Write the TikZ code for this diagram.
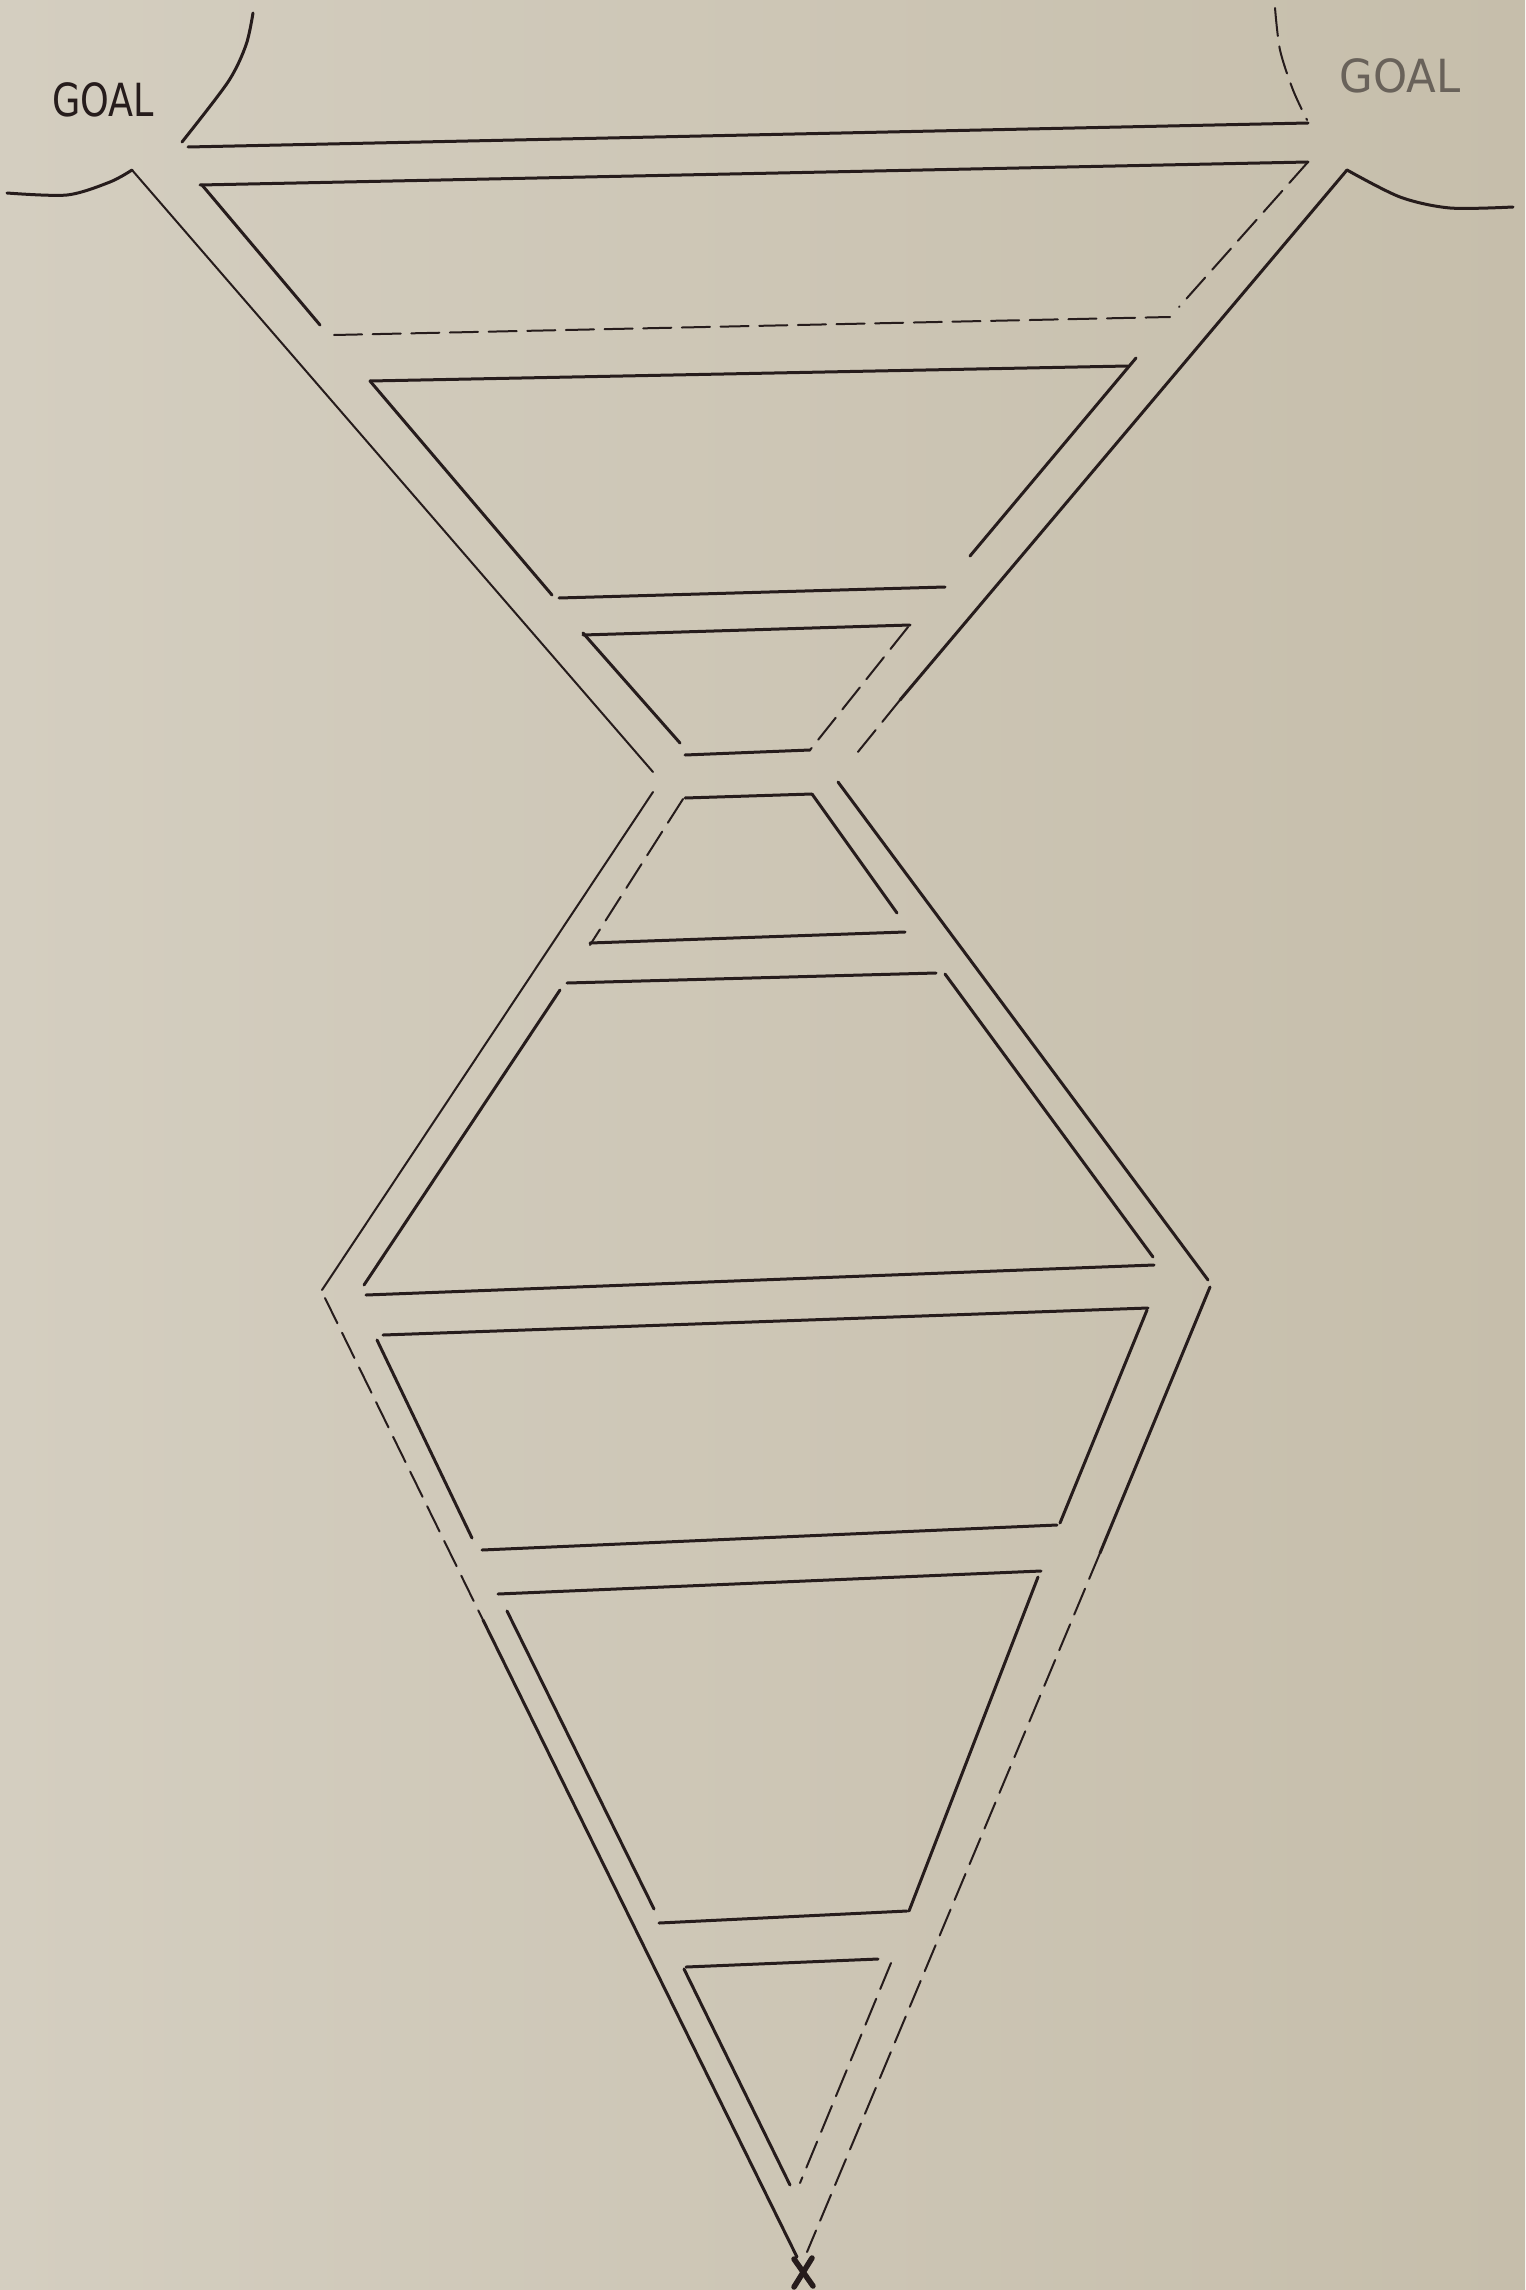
\documentclass[tikz,border=0pt]{standalone}
\usepackage{fontspec}
\setmainfont{DejaVu Sans}
\definecolor{paper}{RGB}{200,193,175}
\definecolor{paperL}{RGB}{212,206,192}
\definecolor{paperR}{RGB}{198,190,171}
\definecolor{ink}{RGB}{38,28,28}
\definecolor{pencil}{RGB}{105,98,90}
\begin{document}
\begin{tikzpicture}[x=0.1mm,y=-0.1mm,
  wall/.style={draw=ink, line width=0.3mm, line cap=round, line join=round},
  thinwall/.style={wall, line width=0.2mm},
  faint/.style={wall, line width=0.2mm, dash pattern=on 8pt off 3pt},
  goaltext/.style={inner sep=0pt, font=\fontsize{13}{13}\selectfont}]
\useasboundingbox (0,0) rectangle (1525,2290);
\shade[left color=paperL, right color=paperR] (0,0) rectangle (1525,2290);

% goals
\node[goaltext, text=ink] (goalL) at (103,100) {\scalebox{0.8}[1]{GOAL}};
\node[goaltext, text=pencil] (goalR) at (1400,76) {\scalebox{0.95}[1]{GOAL}};
\draw[wall] plot[smooth] coordinates {(253,13) (246,45) (228,82) (182,142)};
\draw[wall] plot[smooth] coordinates {(7,193) (67,195) (110,182) (132,170)};
\draw[faint] plot[smooth] coordinates {(1275,8) (1280,50) (1293,90) (1307,120)};
\draw[wall] plot[smooth] coordinates {(1347,170) (1400,197) (1450,208) (1513,207)};

% top corridor
\draw[wall] (188,147) -- (1308,123);
\draw[wall] (200,185) -- (1308,162);

% outer walls, upper funnel
\draw[thinwall] (132,170) -- (653,772);
\draw[wall] (1347,170) -- (900,700);
\draw[faint] (900,700) -- (853,758);

% face 1
\draw[wall] (202,185) -- (320,325);
\draw[faint] (1308,162) -- (1179,307);
\draw[faint] (334,335) -- (1170,317);

% face 2
\draw[wall] (370,381) -- (1128,366);
\draw[wall] (370,381) -- (552,595);
\draw[wall] (1136,358) -- (970,556);
\draw[wall] (559,598) -- (945,587);

% face 3
\draw[wall] (583,635) -- (910,625);
\draw[wall] (583,633) -- (680,743);
\draw[faint] (908,627) -- (810,750);
\draw[wall] (685,755) -- (810,750);

% waist
\draw[wall] (685,798) -- (812,794);

% outer walls, lower diamond
\draw[thinwall] (653,792) -- (322,1290);
\draw[wall] (838,782) -- (1208,1280);
\draw[faint] (325,1298) -- (483,1620);
\draw[wall] (483,1620) -- (797,2257);
\draw[wall] (1210,1287) -- (1100,1553);
\draw[faint] (1100,1553) -- (807,2252);

% face 4
\draw[faint] (683,799) -- (590,945);
\draw[wall] (812,794) -- (897,913);
\draw[wall] (590,943) -- (905,932);

% face 5
\draw[wall] (567,983) -- (936,973);
\draw[wall] (560,990) -- (364,1285);
\draw[wall] (945,974) -- (1153,1257);
\draw[wall] (366,1295) -- (1154,1265);

% face 6
\draw[wall] (383,1335) -- (1148,1308);
\draw[wall] (377,1340) -- (472,1538);
\draw[wall] (1147,1310) -- (1060,1523);
\draw[wall] (482,1550) -- (1057,1525);

% face 7
\draw[wall] (498,1594) -- (1041,1571);
\draw[wall] (507,1611) -- (654,1909);
\draw[wall] (1038,1577) -- (909,1911);
\draw[wall] (659,1923) -- (907,1911);

% face 8
\draw[wall] (686,1967) -- (878,1959);
\draw[wall] (684,1969) -- (790,2185);
\draw[faint] (891,1963) -- (800,2183);

% start mark
\node[inner sep=0pt] (start) at (803,2272) {};
\draw[wall, line width=0.55mm] (794,2259) -- (813,2286);
\draw[wall, line width=0.55mm] (812,2258) -- (794,2287);
\end{tikzpicture}
\end{document}
